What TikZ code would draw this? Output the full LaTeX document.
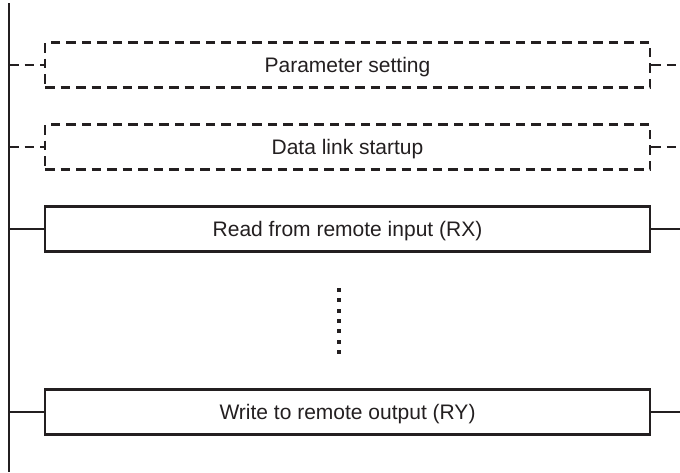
\documentclass[tikz,border=0pt]{standalone}
\usepackage{fontspec}
\setmainfont{Liberation Sans}
\definecolor{ink}{RGB}{35,31,32}
\begin{document}
\begin{tikzpicture}[x=1pt,y=-1pt,
  line width=2.6pt, draw=ink,
  stepbox/.style={draw=ink, minimum width=605pt, minimum height=45pt, inner sep=0pt, text height=15pt, text depth=0pt, font=\fontsize{21}{25}\selectfont, text=ink},
  dashbox/.style={stepbox, dash pattern=on 9.5pt off 6pt},
  dashlink/.style={dash pattern=on 9.5pt off 6pt}]
\useasboundingbox (0,0) rectangle (680,472);
\coordinate (top) at (9,3);
\coordinate (bot) at (9,472);
\draw (top) -- (bot);
\node[dashbox] (p) at (347.5,65) {Parameter setting};
\node[dashbox] (d) at (347.5,147) {Data link startup};
\node[stepbox] (r) at (347.5,229) {Read from remote input (RX)};
\node[stepbox] (w) at (347.5,412) {Write to remote output (RY)};
\foreach \n in {p,d} {
  \coordinate (\n L) at (9,0 |- \n.west);
  \coordinate (\n R) at (680,0 |- \n.east);
  \draw[dashlink] (\n L) -- (\n.west);
  \draw[dashlink] (\n.east) -- (\n R);
}
\foreach \n in {r,w} {
  \coordinate (\n L) at (9,0 |- \n.west);
  \coordinate (\n R) at (680,0 |- \n.east);
  \draw (\n L) -- (\n.west);
  \draw (\n.east) -- (\n R);
}
\foreach \i in {0,...,6} {
  \fill[ink] (337,{288+10.3*\i}) rectangle ++(4,4);
}
\end{tikzpicture}
\end{document}
